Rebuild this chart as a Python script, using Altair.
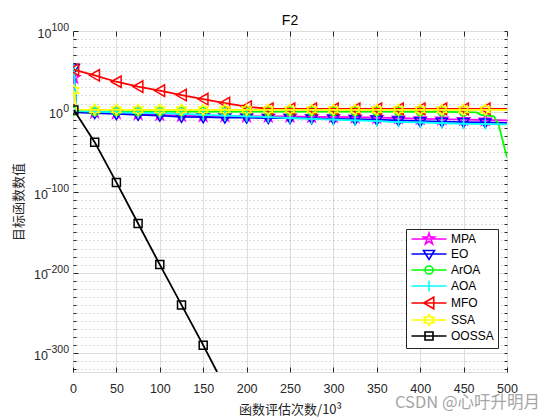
import math
import altair as alt
import pandas as pd

# ---------------- data (x in 10^3 evaluations, y = log10 of objective value) -------------
SERIES = ["MPA", "EO", "ArOA", "AOA", "MFO", "SSA", "OOSSA"]
COLORS = ["#ff00ff", "#0000ff", "#00ff00", "#00ffff", "#ff0000", "#ffff00", "#000000"]

EVALS = [1, 4, 25, 50, 75, 100, 125, 150, 175, 200, 225, 250, 275, 300, 325, 350,
         375, 400, 425, 450, 475, 500]

MPA_LOG = [42, 0, -1, -2, -3, -4, -5, -5.5, -5.5, -6, -6, -6, -6.5, -6.5, -7, -7.5,
           -8, -9, -9.5, -10, -10.5, -11]
EO_LOG = [54, -1, -2, -3, -4, -5, -6.5, -7, -7.5, -7.5, -8, -8, -8.5, -9, -9.5, -10,
          -11, -12, -12.5, -13, -13.5, -14]
AOA_LOG = [52, 1, 0, -1, -1.5, -2, -3, -4, -5, -6, -7, -8, -9, -10, -11, -12,
           -13, -13.5, -14.5, -15, -15.5, -16]
SSA_LOG = [26, 2.5, 2.2, 2.2, 2.2, 2.2, 2.2, 2.2, 2.2, 2.2, 2.2, 2.2, 2.2, 2.2, 2.2, 2.2,
           2.2, 2.2, 2.2, 2.2, 2.2, 2.2]
MFO_LOG = [52, 51, 45, 37, 31, 26, 20.5, 15.5, 10.5, 6, 3.5, 3.3, 3.3, 3.3, 3.3, 3.3,
           3.3, 3.3, 3.3, 3.3, 3.3, 3.3]

AROA_EVALS = [1, 4, 25, 50, 75, 100, 125, 150, 175, 200, 225, 250, 275, 300, 325, 350,
              375, 400, 425, 450, 465, 470, 485, 490, 500]
AROA_LOG = [0.5, 0.5, 0, 0, 0, 0, 0, 0, 0, 0, 0, 0, 0, 0, 0, 0,
            0, -0.3, -0.5, -0.8, -1, -4, -6, -15, -57]

OOSSA_EVALS = [1, 25, 50, 75, 100, 125, 150, 166]
OOSSA_LOG = [2, -38, -88, -139, -190, -240, -290, -323.3]

MARKER_EVALS = [1, 25, 50, 75, 100, 125, 150, 175, 200, 225, 250, 275, 300, 325, 350,
                375, 400, 425, 450, 475]

X_TICKS = [0, 50, 100, 150, 200, 250, 300, 350, 400, 450, 500]
Y_MAJOR = [-300, -200, -100, 0, 100]
Y_MINOR = [v for v in range(-320, 101, 10) if v % 100 != 0]
Y_ALL = list(range(-320, 101, 10))
Y_MIN = -323.3
Y_MAX = 100

TITLE = "F2"
X_TITLE = "函数评估次数/10³"
Y_TITLE = "目标函数数值"
WATERMARK = "CSDN @心吁升明月"

series_data = {
    "MPA": (EVALS, MPA_LOG),
    "EO": (EVALS, EO_LOG),
    "ArOA": (AROA_EVALS, AROA_LOG),
    "AOA": (EVALS, AOA_LOG),
    "MFO": (EVALS, MFO_LOG),
    "SSA": (EVALS, SSA_LOG),
    "OOSSA": (OOSSA_EVALS, OOSSA_LOG),
}

frames = []
for name in SERIES:
    xs_, ys_ = series_data[name]
    frames.append(pd.DataFrame({"series": name, "evals": xs_, "logv": ys_}))
df = pd.concat(frames, ignore_index=True)

# ---------------- marker shapes (unit box paths) -------------
def poly(pts):
    return "M" + " L".join(f"{x:.3f},{y:.3f}" for x, y in pts) + " Z"

def star(n, R, r):
    pts = []
    for k in range(2 * n):
        a = -math.pi / 2 + k * math.pi / n
        rad = R if k % 2 == 0 else r
        pts.append((rad * math.cos(a), rad * math.sin(a)))
    return poly(pts)

MARKERS = [
    star(5, 1.2, 0.46),                                   # pentagram
    poly([(-1.1, -0.7), (1.1, -0.7), (0, 1.1)]),          # triangle down
    "M0.8,0 A0.8,0.8 0 1,1 -0.8,0 A0.8,0.8 0 1,1 0.8,0 Z",  # circle
    "M-1.1,0 L1.1,0 M0,-1.1 L0,1.1",                      # plus
    poly([(-1.05, 0), (0.95, -1.15), (0.95, 1.15)]),      # triangle left
    star(6, 1.1, 0.635),                                  # hexagram
    poly([(-0.8, -0.8), (0.8, -0.8), (0.8, 0.8), (-0.8, 0.8)]),  # square
]
LEG_LINE = "M-3.5,0 L3.5,0 "
LEGEND_MARKERS = [LEG_LINE + m for m in MARKERS]

xs = alt.Scale(domain=[0, 500], nice=False, zero=False)
ys = alt.Scale(domain=[Y_MIN, Y_MAX], nice=False, zero=False)
color_scale = alt.Scale(domain=SERIES, range=COLORS)
shape_scale = alt.Scale(domain=SERIES, range=MARKERS)
legend_shape_scale = alt.Scale(domain=SERIES, range=LEGEND_MARKERS)

TXT = "#262626"
LABEL_FONT = "Liberation Sans"
CJK = "Noto Sans CJK SC"

AX_BOTTOM = alt.Axis(orient="bottom", values=X_TICKS, grid=True, gridColor="#dedede",
                     gridWidth=1, domain=False, tickSize=5, tickColor=TXT, offset=-5,
                     labelPadding=10.5, labelFont=LABEL_FONT, labelFontSize=12.5,
                     labelColor=TXT, title=X_TITLE, titleFont=CJK, titleFontSize=13,
                     titleFontWeight="normal", titleColor=TXT, titlePadding=8,
                     labelFlush=False)
AX_TOP = alt.Axis(orient="top", values=X_TICKS, grid=False, domain=False, tickSize=5,
                  tickColor=TXT, offset=-5, labels=False, title=None)
# base "10" of each y label, right-aligned so that the exponent fits after it
AY_LEFT = alt.Axis(orient="left", values=Y_MAJOR, grid=True, gridColor="#dedede",
                   gridWidth=1, domain=False, tickSize=5, tickColor=TXT, offset=-5,
                   labelPadding={"condition": [{"test": "datum.value == 0", "value": 10.5},
                                               {"test": "datum.value == 100", "value": 22}],
                                 "value": 25.5},
                   labelOffset=2, labelAlign="right", labelBaseline="middle",
                   labelFont=LABEL_FONT, labelFontSize=12.5, labelColor=TXT,
                   labelExpr="'10'",
                   title=Y_TITLE, titleFont=CJK, titleFontSize=13, titleFontWeight="normal",
                   titleColor=TXT, titlePadding=8, labelFlush=False)
# exponents
AY_EXP = alt.Axis(orient="left", values=Y_MAJOR, grid=False, domain=False, ticks=False,
                  tickSize=0, labelPadding=4.5, labelOffset=-3.5, labelAlign="right",
                  labelBaseline="middle", labelFont=LABEL_FONT, labelFontSize=10.5,
                  labelColor=TXT, labelExpr="format(datum.value, 'd')", title=None,
                  labelFlush=False)
AY_LEFT_MINOR = alt.Axis(orient="left", values=Y_MINOR, grid=True, gridColor="#b5b5b5",
                         gridDash=[1, 3], gridWidth=1, domain=False, tickSize=3,
                         tickColor=TXT, offset=-3, labels=False, title=None)
AY_RIGHT = alt.Axis(orient="right", values=Y_ALL, grid=False, domain=False, tickSize=3,
                    tickColor=TXT, offset=-3, labels=False, title=None)

base = alt.Chart(df).mark_point(opacity=0, size=1)
layers = [
    base.encode(x=alt.X("evals:Q", scale=xs, axis=AX_BOTTOM),
                y=alt.Y("logv:Q", scale=ys, axis=AY_LEFT)),
    base.encode(x=alt.X("evals:Q", scale=xs, axis=AX_TOP),
                y=alt.Y("logv:Q", scale=ys, axis=AY_LEFT_MINOR)),
    base.encode(x=alt.X("evals:Q", scale=xs, axis=None),
                y=alt.Y("logv:Q", scale=ys, axis=AY_RIGHT)),
    base.encode(x=alt.X("evals:Q", scale=xs, axis=None),
                y=alt.Y("logv:Q", scale=ys, axis=AY_EXP)),
]

for name in SERIES:
    d = df[df["series"] == name]
    m = d[d["evals"].isin(MARKER_EVALS)]
    layers.append(
        alt.Chart(d).mark_line(strokeWidth=1.8, clip=True).encode(
            x=alt.X("evals:Q", scale=xs, axis=None),
            y=alt.Y("logv:Q", scale=ys, axis=None),
            color=alt.Color("series:N", scale=color_scale, legend=None),
        )
    )
    layers.append(
        alt.Chart(m).mark_point(filled=False, size=100, strokeWidth=1.5, opacity=1,
                                clip=True).encode(
            x=alt.X("evals:Q", scale=xs, axis=None),
            y=alt.Y("logv:Q", scale=ys, axis=None),
            color=alt.Color("series:N", scale=color_scale, legend=None),
            shape=alt.Shape("series:N", scale=shape_scale, legend=None),
        )
    )

# legend-only layer (no data drawn): line + marker symbols
LEG = alt.Legend(title=None, orient="none", legendX=333, legendY=198,
                 fillColor="white", strokeColor=TXT, padding=4,
                 labelFont=LABEL_FONT, labelFontSize=12, labelColor="#000000",
                 symbolSize=100, symbolStrokeWidth=1.6, symbolOffset=13,
                 labelOffset=16, rowPadding=-1)
layers.append(
    alt.Chart(df).transform_filter("datum.evals < 0").mark_point(
        filled=False, size=100, strokeWidth=1.6, opacity=1).encode(
        x=alt.X("evals:Q", scale=xs, axis=None),
        y=alt.Y("logv:Q", scale=ys, axis=None),
        color=alt.Color("series:N", scale=color_scale, legend=LEG),
        shape=alt.Shape("series:N", scale=legend_shape_scale, legend=LEG),
    )
)

layers.append(
    alt.Chart(pd.DataFrame({"t": [WATERMARK]})).mark_text(
        font=CJK, fontSize=16.5, color="#a5a5a5", align="left", baseline="middle"
    ).encode(text="t:N", x=alt.value(322), y=alt.value(372))
)

chart = (
    alt.layer(*layers)
    .resolve_axis(x="independent", y="independent")
    .resolve_scale(color="independent", shape="independent")
    .properties(
        width=434, height=341,
        title=alt.TitleParams(TITLE, fontSize=14, fontWeight="normal", font=LABEL_FONT,
                              color="#000000", offset=-5, anchor="middle", frame="group"),
        autosize=alt.AutoSizeParams(type="none"),
        padding={"left": 65, "top": 23, "right": 45, "bottom": 48},
    )
    .configure_view(stroke=TXT, strokeWidth=1)
    .configure(background="white")
)

chart.save("out.html", embed_options={"renderer": "svg", "actions": False})
